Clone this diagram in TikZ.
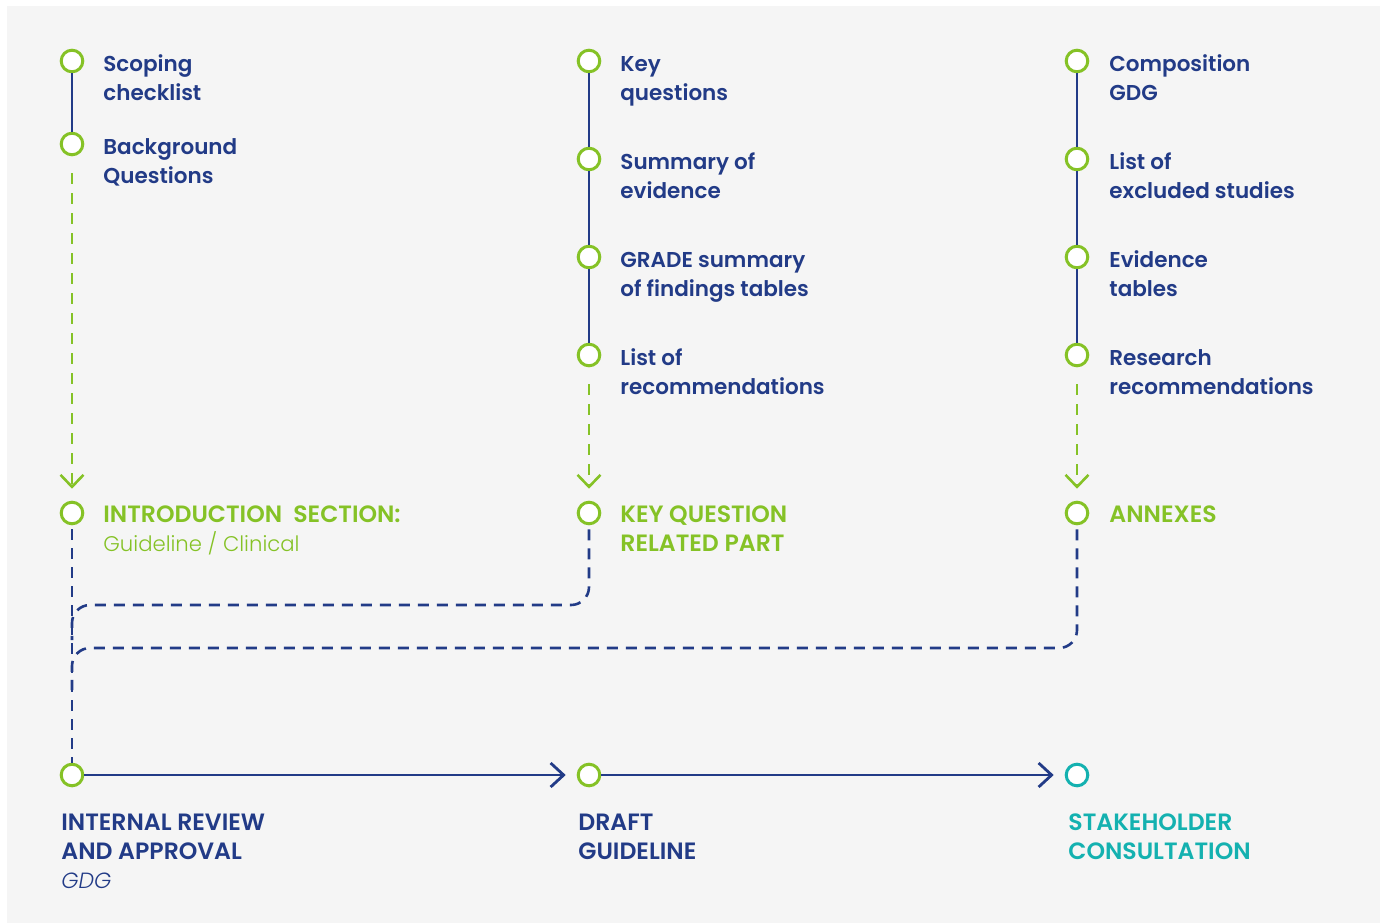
\documentclass[tikz,border=0pt]{standalone}
\usepackage{fontspec}
\setmainfont{Poppins}[BoldFont={Poppins SemiBold}]
\newfontfamily\lightfont{Poppins Light}[ItalicFont={Poppins Light Italic}]
\usetikzlibrary{arrows.meta}
\definecolor{navy}{HTML}{223B87}
\definecolor{leaf}{HTML}{85C226}
\definecolor{tealc}{HTML}{14B1B0}
\definecolor{panel}{HTML}{F5F5F5}
\begin{document}
\begin{tikzpicture}[x=0.5pt,y=-0.5pt,
  dot/.style={circle, draw=leaf, line width=1.5pt, fill=white, minimum size=10.8pt, inner sep=0pt},
  tdot/.style={dot, draw=tealc},
  lbl/.style={anchor=base west, inner sep=0pt, font=\bfseries\fontsize{10.75}{14}\selectfont, text=navy},
  caps/.style={lbl, font=\bfseries\fontsize{11.8}{14}\selectfont},
  glbl/.style={caps, text=leaf},
  llbl/.style={anchor=base west, inner sep=0pt, font=\lightfont\fontsize{10.6}{14}\selectfont, text=leaf},
  tlbl/.style={caps, text=tealc},
  solidline/.style={draw=navy, line width=1.25pt},
  gdash/.style={draw=leaf, line width=1.3pt, dash pattern=on 5.5pt off 4.5pt, -{Straight Barb[length=6pt,width=11.5pt,line width=1.3pt]}, shorten <=8.5pt, shorten >=6pt},
  ndash/.style={draw=navy, line width=1.3pt, dash pattern=on 5.5pt off 4pt, rounded corners=9pt},
  flow/.style={draw=navy, line width=1.4pt, -{Straight Barb[length=6.5pt,width=12pt,line width=1.4pt]}, shorten >=5.5pt}
]
\useasboundingbox (0,0) rectangle (1380,923);
\fill[panel] (7,6) rectangle (1380,923);

% column 1
\node[dot] (c1a) at (72,61) {};
\node[dot] (c1b) at (72,144) {};
\node[dot] (intro) at (72,513) {};
% column 2
\node[dot] (c2a) at (589,61) {};
\node[dot] (c2b) at (589,159) {};
\node[dot] (c2c) at (589,257) {};
\node[dot] (c2d) at (589,355) {};
\node[dot] (kq) at (589,513) {};
% column 3
\node[dot] (c3a) at (1077,61) {};
\node[dot] (c3b) at (1077,159) {};
\node[dot] (c3c) at (1077,257) {};
\node[dot] (c3d) at (1077,355) {};
\node[dot] (annex) at (1077,513) {};
% bottom
\node[dot] (ir) at (72,775) {};
\node[dot] (draft) at (589,775) {};
\node[tdot] (stake) at (1077,775) {};

% solid vertical lines
\draw[solidline] (c1a) -- (c1b);
\draw[solidline] (c2a) -- (c2b);
\draw[solidline] (c2b) -- (c2c);
\draw[solidline] (c2c) -- (c2d);
\draw[solidline] (c3a) -- (c3b);
\draw[solidline] (c3b) -- (c3c);
\draw[solidline] (c3c) -- (c3d);

% green dashed arrows
\draw[gdash] (c1b) -- (intro);
\draw[gdash] (c2d) -- (kq);
\draw[gdash] (c3d) -- (annex);

% navy dashed connectors
\coordinate (j1) at (72,640);
\coordinate (j2) at (72,690);
\draw[ndash, shorten <=2pt] (intro) -- (ir);
\draw[ndash, shorten <=2pt] (kq.south) |- (j1 |- 0,605) -- (j1);
\draw[ndash, shorten <=2pt] (annex.south) |- (j2 |- 0,648) -- (j2);

% bottom flow
\draw[flow] (ir) -- (draft);
\draw[flow] (draft) -- (stake);

% labels column 1
\node[lbl] (l1a) at (103,71) {Scoping};
\node[lbl] (l1b) at (103,100) {checklist};
\node[lbl] (l1c) at (103,154) {Background};
\node[lbl] (l1d) at (103,183) {Questions};
\node[glbl] (l1e) at (103,522) {INTRODUCTION\ \ SECTION:};
\node[llbl] (l1f) at (103,551) {Guideline / Clinical};
% labels column 2
\node[lbl] (l2a) at (620,71) {Key};
\node[lbl] (l2b) at (620,100) {questions};
\node[lbl] (l2c) at (620,169) {Summary of};
\node[lbl] (l2d) at (620,198) {evidence};
\node[lbl] (l2e) at (620,267) {GRADE summary};
\node[lbl] (l2f) at (620,296) {of findings tables};
\node[lbl] (l2g) at (620,365) {List of};
\node[lbl] (l2h) at (620,394) {recommendations};
\node[glbl] (l2i) at (620,522) {KEY QUESTION};
\node[glbl] (l2j) at (620,551) {RELATED PART};
% labels column 3
\node[lbl] (l3a) at (1109,71) {Composition};
\node[lbl] (l3b) at (1109,100) {GDG};
\node[lbl] (l3c) at (1109,169) {List of};
\node[lbl] (l3d) at (1109,198) {excluded studies};
\node[lbl] (l3e) at (1109,267) {Evidence};
\node[lbl] (l3f) at (1109,296) {tables};
\node[lbl] (l3g) at (1109,365) {Research};
\node[lbl] (l3h) at (1109,394) {recommendations};
\node[glbl] (l3i) at (1109,522) {ANNEXES};
% bottom labels
\node[caps] (b1a) at (61,830) {INTERNAL REVIEW};
\node[caps] (b1b) at (61,859) {AND APPROVAL};
\node[anchor=base west, inner sep=0pt, font=\lightfont\itshape\fontsize{11}{14}\selectfont, text=navy] (b1c) at (61,888) {GDG};
\node[caps] (b2a) at (578,830) {DRAFT};
\node[caps] (b2b) at (578,859) {GUIDELINE};
\node[tlbl] (b3a) at (1068,830) {STAKEHOLDER};
\node[tlbl] (b3b) at (1068,859) {CONSULTATION};
\end{tikzpicture}
\end{document}
